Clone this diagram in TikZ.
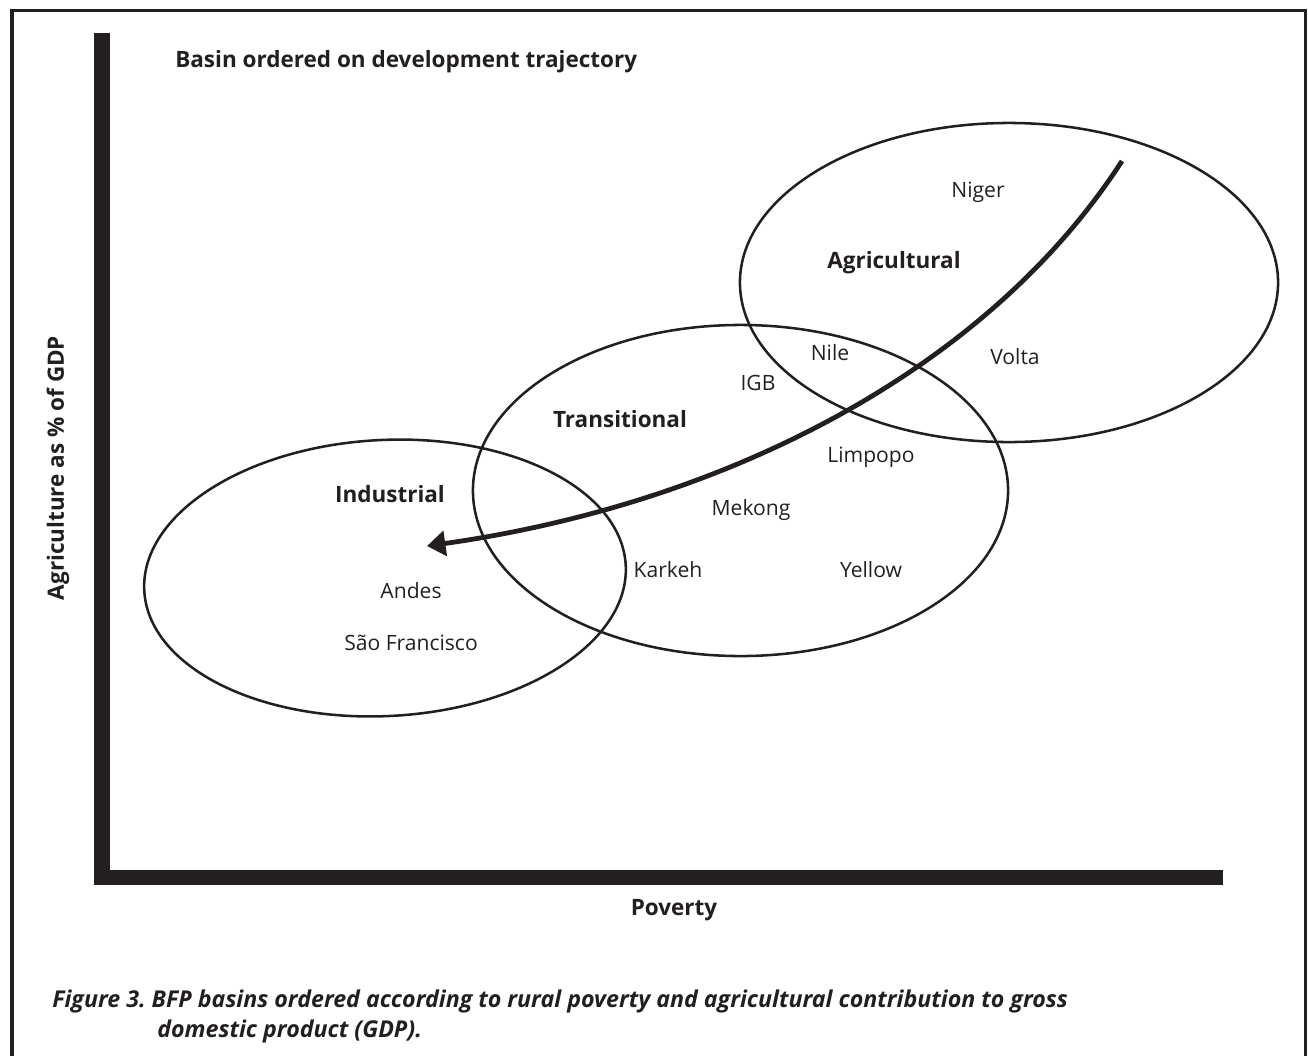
\documentclass[tikz,border=0pt]{standalone}
\usepackage{fontspec}
\setmainfont{Open Sans}
\usetikzlibrary{shapes.geometric,arrows.meta}

\definecolor{ink}{HTML}{231F20}

\tikzset{
  basin/.style={font=\fontsize{15}{18}\selectfont, text=ink, anchor=base, inner sep=0pt},
  zone/.style={basin, font=\fontsize{16}{19}\selectfont\bfseries},
  caption/.style={zone, anchor=base west, font=\fontsize{16.5}{20}\selectfont\bfseries\itshape},
  region/.style={draw=ink, line width=1.8pt, ellipse, inner sep=0pt},
  trajectory/.style={draw=ink, line width=3.4pt, -{Triangle[length=4.6mm,width=6.2mm]}},
}
\frenchspacing

\begin{document}
\begin{tikzpicture}[x=0.025cm, y=-0.025cm]
  \useasboundingbox (0,0) rectangle (1308,1055);

  % outer frame (runs off the bottom)
  \draw[ink, line width=0.75mm] (12,10) rectangle (1305,1075);

  % axes
  \draw[ink, line width=3.8mm, miter limit=4] (102,33) -- (102,877.5) -- (1223,877.5);
  \node[zone, anchor=base west] (title) at (175,67) {Basin ordered on development trajectory};
  \node[zone, anchor=center, rotate=90] (ylab) at (58,468) {Agriculture as \% of GDP};
  \node[zone] (xlab) at (674,915) {Poverty};

  % basin groups
  \node[region, minimum width=12.05cm, minimum height=6.9cm, rotate=3] (ind) at (385,578) {};
  \node[region, minimum width=13.375cm, minimum height=8.275cm] (trans) at (740.5,490.5) {};
  \node[region, minimum width=13.45cm, minimum height=7.975cm] (agri) at (1009,282.5) {};

  \node[zone] (agrilab)  at (894,268) {Agricultural};
  \node[zone] (translab) at (620,427) {Transitional};
  \node[zone] (indlab)   at (390,502) {Industrial};

  % basins
  \node[basin] (niger)   at (978,197) {Niger};
  \node[basin] (nile)    at (830,360) {Nile};
  \node[basin] (volta)   at (1015,364) {Volta};
  \node[basin] (igb)     at (758,390) {IGB};
  \node[basin] (limpopo) at (871,462) {Limpopo};
  \node[basin] (mekong)  at (751,515) {Mekong};
  \node[basin] (karkeh)  at (668,577) {Karkeh};
  \node[basin] (yellow)  at (871,577) {Yellow};
  \node[basin] (andes)   at (411,598) {Andes};
  \node[basin] (saof)    at (411,650) {São Francisco};

  % development trajectory
  \coordinate (trajtop) at (1122,161);
  \coordinate (trajend) at (427,546);
  \draw[trajectory] (trajtop) .. controls +(-136,210) and +(297,-42) .. (trajend);

  % caption
  \node[caption] (cap1) at (52,1007)
    {Figure 3. BFP basins ordered according to rural poverty and agricultural contribution to gross};
  \node[caption] (cap2) at (157,1037) {domestic product (GDP).};
\end{tikzpicture}
\end{document}
